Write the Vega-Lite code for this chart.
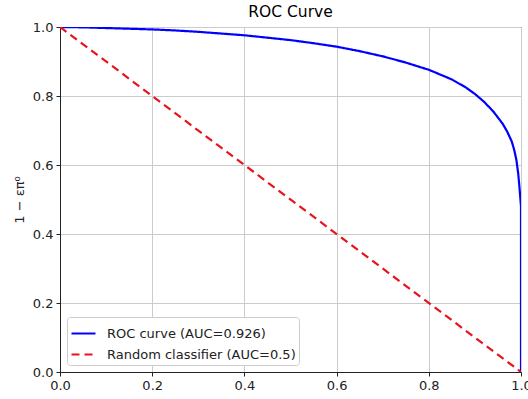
{
  "$schema": "https://vega.github.io/schema/vega-lite/v6.json",
  "autosize": "none",
  "width": 461,
  "height": 345,
  "padding": {"left": 60, "top": 27, "right": 7, "bottom": 27},
  "background": "white",
  "title": {"text": "ROC Curve", "font": "DejaVu Sans", "fontSize": 15.5, "fontWeight": "normal", "color": "#000", "offset": 1},
  "config": {
    "view": {"stroke": "#222", "strokeWidth": 1},
    "font": "DejaVu Sans",
    "axis": {
      "labelFont": "DejaVu Sans", "labelFontSize": 13, "labelColor": "#222",
      "titleFont": "DejaVu Sans", "titleFontSize": 13, "titleColor": "#222", "titleFontWeight": "normal",
      "tickColor": "#222", "tickSize": 4, "domainColor": "#222",
      "gridColor": "#cccccc", "gridWidth": 1, "labelPadding": 3, "labelFlush": false, "labelOverlap": false
    },
    "legend": {
      "labelFont": "DejaVu Sans", "labelFontSize": 13, "labelColor": "#222"
    }
  },
  "data": {
    "values": [
      {"i": 0, "series": "ROC curve (AUC=0.926)", "fpr": 0.0, "tpr": 1.0},
      {"i": 1, "series": "ROC curve (AUC=0.926)", "fpr": 0.05, "tpr": 0.999},
      {"i": 2, "series": "ROC curve (AUC=0.926)", "fpr": 0.1, "tpr": 0.997},
      {"i": 3, "series": "ROC curve (AUC=0.926)", "fpr": 0.15, "tpr": 0.995},
      {"i": 4, "series": "ROC curve (AUC=0.926)", "fpr": 0.2, "tpr": 0.993},
      {"i": 5, "series": "ROC curve (AUC=0.926)", "fpr": 0.25, "tpr": 0.99},
      {"i": 6, "series": "ROC curve (AUC=0.926)", "fpr": 0.3, "tpr": 0.986},
      {"i": 7, "series": "ROC curve (AUC=0.926)", "fpr": 0.35, "tpr": 0.981},
      {"i": 8, "series": "ROC curve (AUC=0.926)", "fpr": 0.4, "tpr": 0.976},
      {"i": 9, "series": "ROC curve (AUC=0.926)", "fpr": 0.45, "tpr": 0.969},
      {"i": 10, "series": "ROC curve (AUC=0.926)", "fpr": 0.5, "tpr": 0.962},
      {"i": 11, "series": "ROC curve (AUC=0.926)", "fpr": 0.55, "tpr": 0.953},
      {"i": 12, "series": "ROC curve (AUC=0.926)", "fpr": 0.6, "tpr": 0.943},
      {"i": 13, "series": "ROC curve (AUC=0.926)", "fpr": 0.65, "tpr": 0.93},
      {"i": 14, "series": "ROC curve (AUC=0.926)", "fpr": 0.7, "tpr": 0.915},
      {"i": 15, "series": "ROC curve (AUC=0.926)", "fpr": 0.75, "tpr": 0.897},
      {"i": 16, "series": "ROC curve (AUC=0.926)", "fpr": 0.8, "tpr": 0.876},
      {"i": 17, "series": "ROC curve (AUC=0.926)", "fpr": 0.85, "tpr": 0.848},
      {"i": 18, "series": "ROC curve (AUC=0.926)", "fpr": 0.88, "tpr": 0.825},
      {"i": 19, "series": "ROC curve (AUC=0.926)", "fpr": 0.9, "tpr": 0.806},
      {"i": 20, "series": "ROC curve (AUC=0.926)", "fpr": 0.92, "tpr": 0.783},
      {"i": 21, "series": "ROC curve (AUC=0.926)", "fpr": 0.94, "tpr": 0.755},
      {"i": 22, "series": "ROC curve (AUC=0.926)", "fpr": 0.96, "tpr": 0.72},
      {"i": 23, "series": "ROC curve (AUC=0.926)", "fpr": 0.97, "tpr": 0.697},
      {"i": 24, "series": "ROC curve (AUC=0.926)", "fpr": 0.98, "tpr": 0.668},
      {"i": 25, "series": "ROC curve (AUC=0.926)", "fpr": 0.985, "tpr": 0.645},
      {"i": 26, "series": "ROC curve (AUC=0.926)", "fpr": 0.99, "tpr": 0.615},
      {"i": 27, "series": "ROC curve (AUC=0.926)", "fpr": 0.994, "tpr": 0.575},
      {"i": 28, "series": "ROC curve (AUC=0.926)", "fpr": 0.997, "tpr": 0.53},
      {"i": 29, "series": "ROC curve (AUC=0.926)", "fpr": 1.0, "tpr": 0.48},
      {"i": 30, "series": "ROC curve (AUC=0.926)", "fpr": 1.0, "tpr": 0.0},
      {"i": 0, "series": "Random classifier (AUC=0.5)", "fpr": 0.0, "tpr": 1.0},
      {"i": 1, "series": "Random classifier (AUC=0.5)", "fpr": 1.0, "tpr": 0.0}
    ]
  },
  "mark": {"type": "line", "strokeWidth": 2.2, "clip": true},
  "encoding": {
    "x": {"field": "fpr", "type": "quantitative", "scale": {"domain": [0, 1], "nice": false, "zero": false},
          "axis": {"values": [0, 0.2, 0.4, 0.6, 0.8, 1.0], "format": ".1f", "title": null, "grid": true}},
    "y": {"field": "tpr", "type": "quantitative", "scale": {"domain": [0, 1], "nice": false, "zero": false},
          "axis": {"values": [0, 0.2, 0.4, 0.6, 0.8, 1.0], "format": ".1f", "title": "1 − επ⁰", "titlePadding": 6, "grid": true}},
    "color": {"field": "series", "type": "nominal",
              "scale": {"domain": ["ROC curve (AUC=0.926)", "Random classifier (AUC=0.5)"], "range": ["#0000ff", "#e8141c"]},
              "legend": {"title": null, "orient": "bottom-left", "offset": 7, "symbolType": "stroke", "symbolSize": 576,
                         "symbolStrokeWidth": 2.2, "fillColor": "white", "strokeColor": "#cccccc", "cornerRadius": 3,
                         "padding": 3, "rowPadding": -5, "labelOffset": 10, "labelLimit": 400}},
    "strokeDash": {"field": "series", "type": "nominal",
                   "scale": {"domain": ["ROC curve (AUC=0.926)", "Random classifier (AUC=0.5)"], "range": [[1, 0], [8, 5]]},
                   "legend": null},
    "order": {"field": "i", "type": "quantitative"}
  }
}
